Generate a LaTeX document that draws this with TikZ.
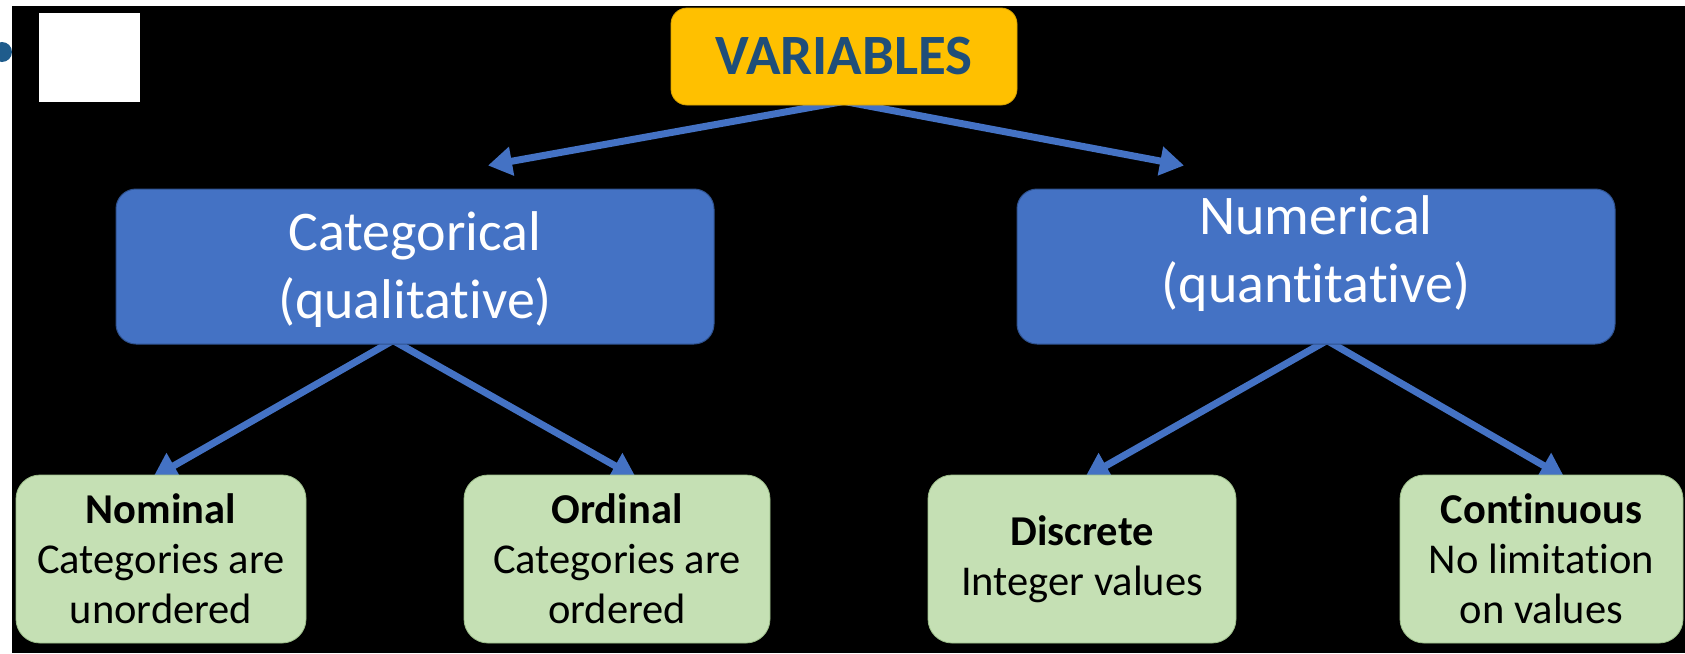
\documentclass[tikz,border=0pt]{standalone}
\usepackage{fontspec}
\setmainfont{Carlito}[RawFeature={-liga;-clig}]
\usetikzlibrary{arrows.meta}
\definecolor{gold}{HTML}{FFC000}
\definecolor{goldborder}{HTML}{D9A300}
\definecolor{titleblue}{HTML}{1F4E79}
\definecolor{dotblue}{HTML}{1F5C8C}
\definecolor{myblue}{HTML}{4472C4}
\definecolor{blueborder}{HTML}{2F528F}
\definecolor{mygreen}{HTML}{C5E0B4}
\definecolor{greenborder}{HTML}{9DBF8A}
\pgfdeclarelayer{bg}
\pgfdeclarelayer{arrowlayer}
\pgfsetlayers{bg,arrowlayer,main}
\tikzset{
  titlebox/.style={draw=goldborder, line width=0.8pt, fill=gold, rounded corners=16pt,
    minimum width=346pt, minimum height=97pt, inner sep=0pt, text=titleblue,
    font=\fontsize{57}{68}\selectfont\bfseries},
  bluebox/.style={draw=blueborder, line width=1pt, fill=myblue, rounded corners=20pt,
    minimum width=598pt, minimum height=155pt, inner sep=0pt},
  bluetext/.style={text=white, align=center, inner sep=0pt, font=\fontsize{56}{68}\selectfont},
  greenbox/.style={draw=greenborder, line width=0.8pt, fill=mygreen, rounded corners=24pt,
    minimum height=168pt, inner sep=0pt, align=center, text=black,
    font=\fontsize{42.5}{50}\selectfont},
  arr/.style={draw=myblue, line width=7pt, -{Triangle[length=24pt,width=28pt]}},
}
\begin{document}
\begin{tikzpicture}[x=1pt,y=-1pt]
\useasboundingbox (0,0) rectangle (1685,653);
\begin{pgfonlayer}{bg}
  \fill[white] (0,0) rectangle (1685,653);
  \fill[dotblue] (2,52) circle (10pt);
  \fill[black] (12,6) rectangle (1685,653);
  \fill[white] (39,13) rectangle (140,102);
\end{pgfonlayer}

\node[titlebox] (var) at (844,56.5) {VARIABLES};
\node[bluebox] (cat) at (415,266.5) {};
\node[bluetext] (catt) at (415,270) {Categorical\\(qualitative)};
\node[bluebox] (num) at (1316,266.5) {};
\node[bluetext] (numt) at (1316,254) {Numerical\\(quantitative)};

\node[greenbox, minimum width=290pt] (nom) at (161,559) {\textbf{Nominal}\\Categories are\\unordered};
\node[greenbox, minimum width=306pt] (ord) at (617,559) {\textbf{Ordinal}\\Categories are\\ordered};
\node[greenbox, minimum width=308pt] (dis) at (1082,559) {\textbf{Discrete}\\Integer values};
\node[greenbox, minimum width=283pt] (con) at (1541.5,559) {\textbf{Continuous}\\No limitation\\on values};

\begin{pgfonlayer}{arrowlayer}
  \coordinate (varapex) at ([yshift=4pt]var.south);
  \coordinate (catapex) at ([xshift=-22pt,yshift=4pt]cat.south);
  \coordinate (numapex) at ([xshift=11pt,yshift=4pt]num.south);
  \coordinate (cattip) at ([xshift=73pt,yshift=23pt]cat.north);
  \coordinate (numtip) at ([xshift=-132pt,yshift=23pt]num.north);
  \draw[arr] (varapex) -- (cattip);
  \draw[arr] (varapex) -- (numtip);
  \draw[arr] (catapex) -- ([xshift=-8pt,yshift=-3pt]nom.north);
  \draw[arr] (catapex) -- ([xshift=19pt,yshift=-3pt]ord.north);
  \draw[arr] (numapex) -- ([xshift=3pt,yshift=-3pt]dis.north);
  \draw[arr] (numapex) -- ([xshift=23pt,yshift=-3pt]con.north);
\end{pgfonlayer}
\end{tikzpicture}
\end{document}
